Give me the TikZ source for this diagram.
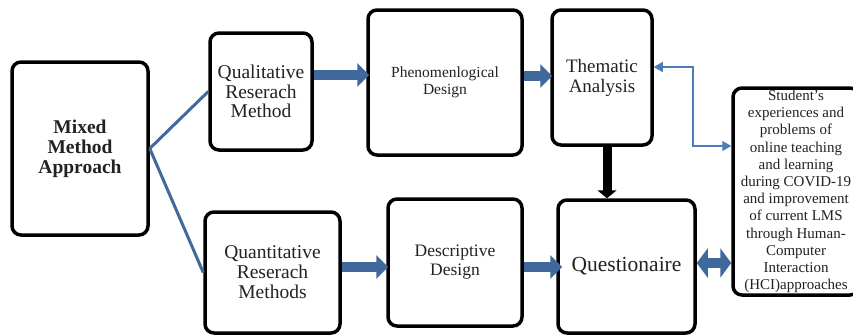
\documentclass[tikz,border=0pt]{standalone}
\usepackage{fontspec}
\setmainfont{Liberation Serif}
\usetikzlibrary{arrows.meta,calc}
\definecolor{lineblue}{HTML}{41699C}
\definecolor{blockblue}{HTML}{3F689C}
\definecolor{thinblue}{HTML}{4A7EBB}
\definecolor{txtgray}{HTML}{222222}
\tikzset{
  box/.style={draw=black, line width=3.5pt, rounded corners=9pt, fill=white,
    align=center, inner sep=0pt, text=txtgray},
  fs/.style={font=\fontsize{#1}{#1}\selectfont},
  link/.style={draw=lineblue, line width=3pt},
  blockarrow/.style={draw=blockblue, line width=10pt,
    -{Triangle[length=12pt,width=23pt]}},
  blackarrow/.style={draw=black, line width=9pt,
    -{Triangle[length=8pt,width=19pt]}},
  dblarrow/.style={draw=blockblue, line width=10pt,
    {Triangle[length=11pt,width=29pt]}-{Triangle[length=11pt,width=29pt]}},
  thinarrow/.style={draw=thinblue, line width=1.3pt,
    {Triangle[length=9pt,width=10pt]}-{Triangle[length=9pt,width=10pt]}},
}
\begin{document}
\begin{tikzpicture}[x=1pt,y=-1pt]
\useasboundingbox (0,0) rectangle (853,335);
\clip (0,0) rectangle (853,335);
\fill[white] (0,0) rectangle (853,335);

% connectors from Mixed Method
\node[box, minimum width=136pt, minimum height=173pt,
  font=\bfseries\fontsize{19.5}{20}\selectfont] (mixed) at (80,148.5)
  {Mixed\\Method\\Approach};
\node[box, minimum width=102pt, minimum height=117pt,
  font=\fontsize{19.5}{19.5}\selectfont] (qual) at (261,91.5)
  {Qualitative\\Reserach\\Method};
\node[box, minimum width=135pt, minimum height=121pt,
  font=\fontsize{19.5}{20}\selectfont] (quant) at (272.5,272.5)
  {Quantitative\\Reserach\\Methods};
\node[box, minimum width=154pt, minimum height=145pt,
  font=\fontsize{15.5}{16.5}\selectfont] (phen) at (445,82.5)
  {Phenomenlogical\\Design};
\node[box, minimum width=100pt, minimum height=135pt,
  font=\fontsize{19}{20}\selectfont] (them) at (602,77.5)
  {Thematic\\Analysis};
\node[box, minimum width=134pt, minimum height=127pt,
  font=\fontsize{17.5}{19}\selectfont] (descr) at (455,262.5)
  {Descriptive\\Design};
\node[box, minimum width=137pt, minimum height=133pt,
  font=\fontsize{21.5}{22}\selectfont] (quest) at (626.5,266.5)
  {Questionaire};
\node[box, minimum width=126pt, minimum height=207pt,
  font=\fontsize{15}{17.2}\selectfont] (stud) at (796,191.5)
  {Student’s\\experiences and\\problems of\\online teaching\\and learning\\during COVID-19\\and improvement\\of current LMS\\through Human-\\Computer\\Interaction\\(HCI)approaches};

\draw[link] (mixed.east) -- (qual.west);
\draw[link] (mixed.east) -- (quant.west);

\draw[blockarrow] (qual.east |- 0,75) -- ([xshift=3pt]phen.west |- 0,75);
\draw[blockarrow] (phen.east |- 0,76) -- ([xshift=2pt]them.west |- 0,76);
\draw[blockarrow] (quant.east |- 0,267) -- ([xshift=2pt]descr.west |- 0,267);
\draw[blockarrow] (descr.east |- 0,267) -- ([xshift=6pt]quest.west |- 0,267);
\draw[blackarrow] (them.south -| 607,0) -- (quest.north -| 607,0);
\draw[dblarrow] (quest.east |- 0,263) -- (stud.west |- 0,263);
\draw[thinarrow] (them.east |- 0,67) -- (693,67) |- (stud.west |- 0,146);
\end{tikzpicture}
\end{document}
